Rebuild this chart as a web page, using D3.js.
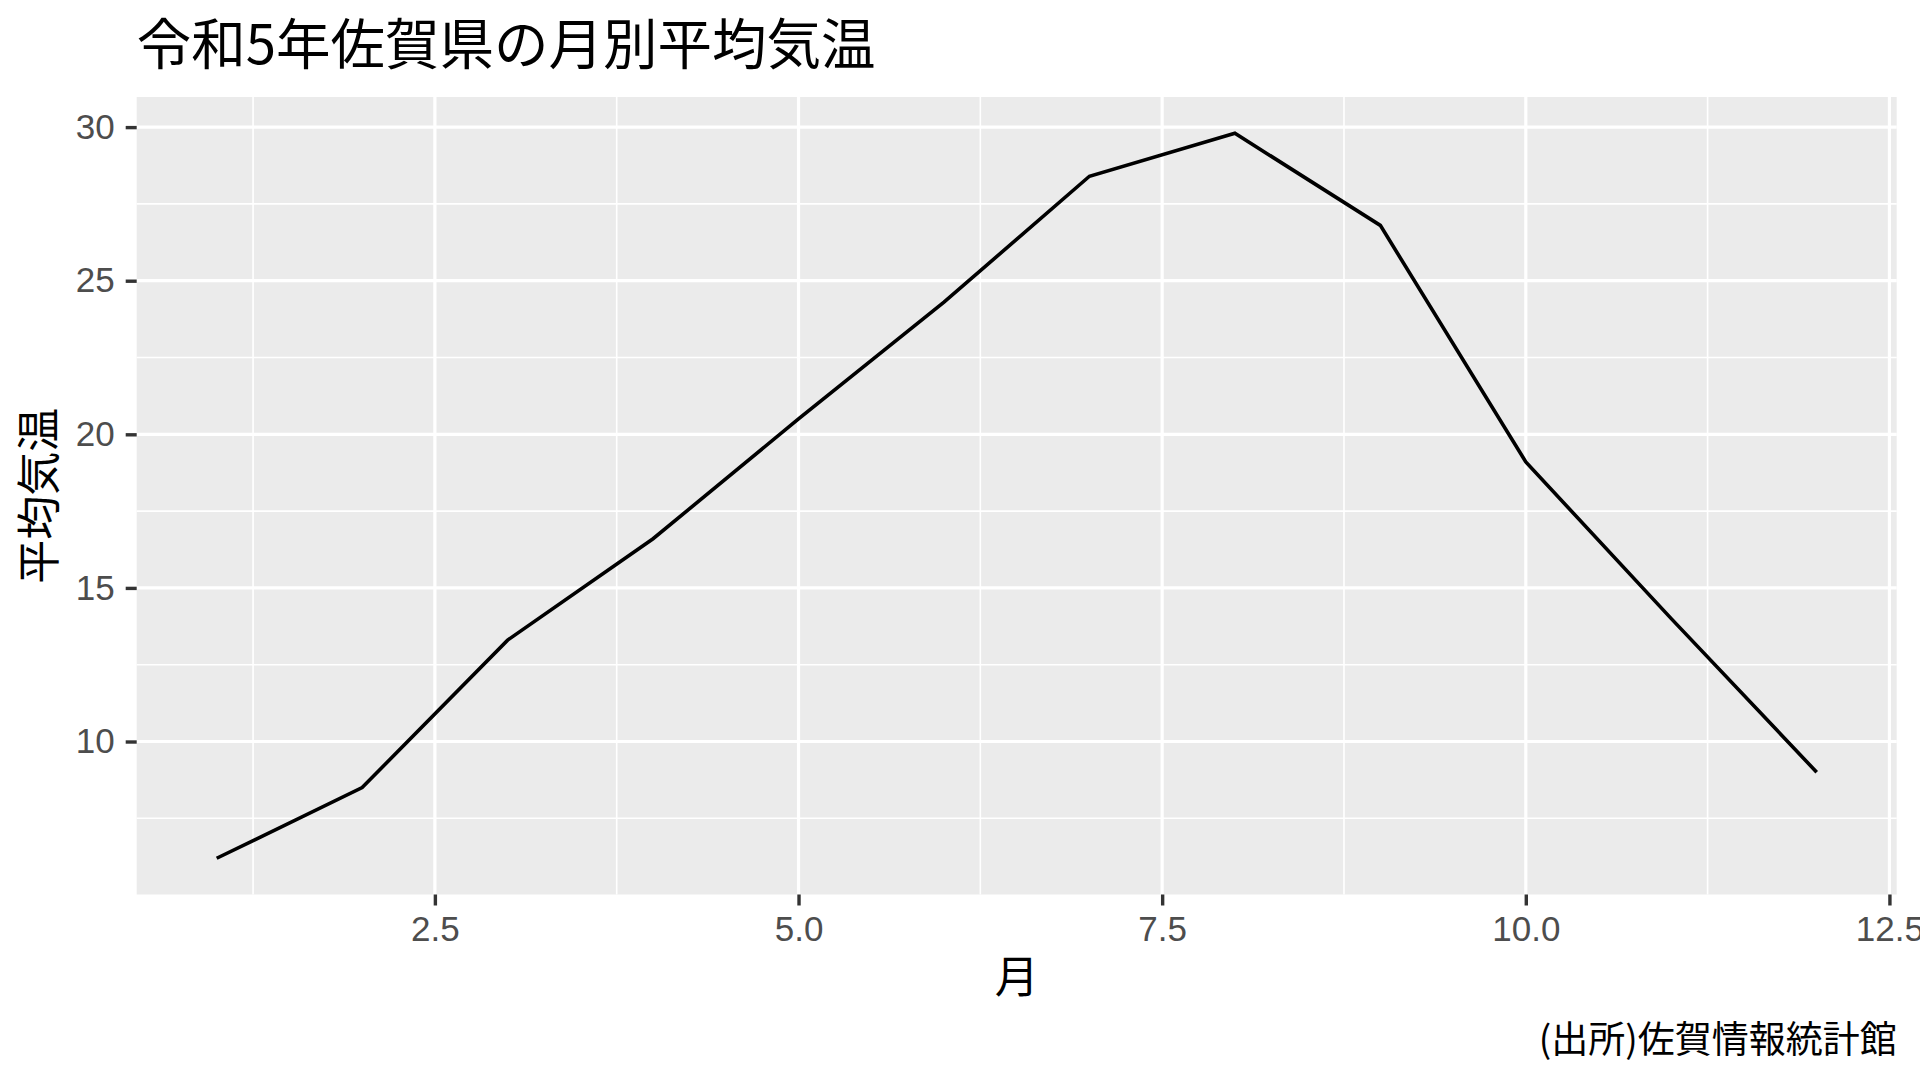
<!DOCTYPE html>
<html><head><meta charset="utf-8">
<script src="https://cdn.jsdelivr.net/npm/d3@7"></script>
<style>html,body{margin:0;padding:0;background:#fff;}</style>
</head><body>
<svg id="c" width="1920" height="1080"></svg>
<script>
const months = [1,2,3,4,5,6,7,8,9,10,11,12];
const temps = [6.2,8.5,13.3,16.6,20.5,24.3,28.4,29.8,26.8,19.1,14.0,9.0];
const xTicks = [2.5,5.0,7.5,10.0,12.5];
const yTicks = [10,15,20,25,30];
const title = "令和5年佐賀県の月別平均気温";
const xTitle = "月";
const yTitle = "平均気温";
const caption = "(出所)佐賀情報統計館";

const svg = d3.select("#c");
const L = 136.7, R = 1896.7, T = 97, B = 894.5;
const xMin = d3.min(months), xMax = d3.max(months);
const yMin = d3.min(temps), yMax = d3.max(temps);
const xe = (xMax-xMin)*0.05, ye = (yMax-yMin)*0.05;
const x = d3.scaleLinear().domain([xMin-xe, xMax+xe]).range([L,R]);
const y = d3.scaleLinear().domain([yMin-ye, yMax+ye]).range([B,T]);

const cjk = "'Noto Sans CJK JP', sans-serif";
const latin = "'Liberation Sans', Arial, sans-serif";

svg.append("rect").attr("x",L).attr("y",T).attr("width",R-L).attr("height",B-T).attr("fill","#EBEBEB");

// minor grid
const xMinor = xTicks.slice(0,-1).map((d,i)=> (d + xTicks[i+1])/2);
xMinor.unshift(xTicks[0]-1.25);
const yMinor = yTicks.slice(0,-1).map((d,i)=> (d + yTicks[i+1])/2);
yMinor.unshift(yTicks[0]-2.5);
const g = svg.append("g");
g.selectAll(".ymn").data(yMinor.filter(v=>v>=y.domain()[0]&&v<=y.domain()[1])).join("line")
  .attr("x1",L).attr("x2",R).attr("y1",d=>y(d)).attr("y2",d=>y(d)).attr("stroke","#fff").attr("stroke-width",1.6);
g.selectAll(".xmn").data(xMinor.filter(v=>v>=x.domain()[0]&&v<=x.domain()[1])).join("line")
  .attr("y1",T).attr("y2",B).attr("x1",d=>x(d)).attr("x2",d=>x(d)).attr("stroke","#fff").attr("stroke-width",1.6);
g.selectAll(".ymj").data(yTicks).join("line")
  .attr("x1",L).attr("x2",R).attr("y1",d=>y(d)).attr("y2",d=>y(d)).attr("stroke","#fff").attr("stroke-width",3.2);
g.selectAll(".xmj").data(xTicks).join("line")
  .attr("y1",T).attr("y2",B).attr("x1",d=>x(d)).attr("x2",d=>x(d)).attr("stroke","#fff").attr("stroke-width",3.2);

// data line
svg.append("path").datum(months.map((m,i)=>[m,temps[i]]))
  .attr("d", d3.line().x(d=>x(d[0])).y(d=>y(d[1])))
  .attr("fill","none").attr("stroke","#000").attr("stroke-width",3.6);

// axes
const yAxis = svg.append("g").attr("transform",`translate(${L},0)`)
  .call(d3.axisLeft(y).tickValues(yTicks).tickSize(11).tickPadding(11).tickFormat(d3.format("d")));
const xAxis = svg.append("g").attr("transform",`translate(0,${B})`)
  .call(d3.axisBottom(x).tickValues(xTicks).tickSize(11).tickPadding(10.5).tickFormat(d3.format(".1f")));
[yAxis,xAxis].forEach(a=>{
  a.select(".domain").remove();
  a.selectAll(".tick line").attr("stroke","#333333").attr("stroke-width",3.4);
  a.selectAll(".tick text").attr("fill","#4D4D4D").style("font-family",latin).style("font-size","35px");
});

svg.append("text").attr("x",L).attr("y",64).text(title)
  .style("font-family",cjk).style("font-size","54.5px").attr("fill","#000");
svg.append("text").attr("x",(L+R)/2).attr("y",993).attr("text-anchor","middle").text(xTitle)
  .style("font-family",cjk).style("font-size","44px").attr("fill","#000");
svg.append("text").attr("transform",`translate(55,${(T+B)/2}) rotate(-90)`).attr("text-anchor","middle").text(yTitle)
  .style("font-family",cjk).style("font-size","44px").attr("fill","#000");
svg.append("text").attr("x",R).attr("y",1053).attr("text-anchor","end").text(caption)
  .style("font-family",cjk).style("font-size","37px").attr("fill","#000");
</script>
</body></html>
